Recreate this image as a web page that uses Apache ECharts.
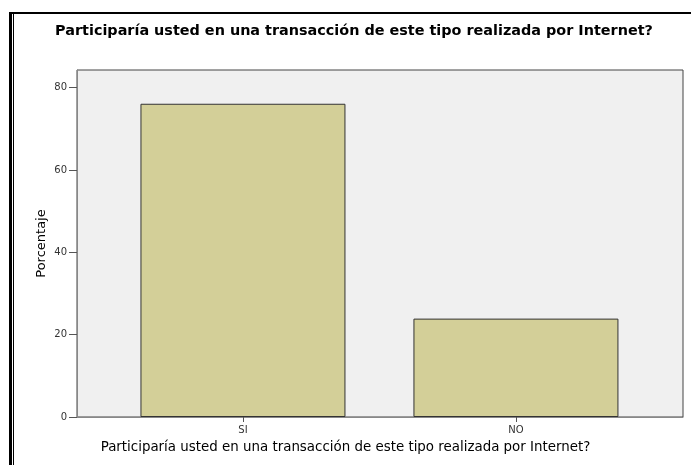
<!DOCTYPE html>
<html>
<head>
<meta charset="utf-8">
<script src="https://cdn.jsdelivr.net/npm/echarts@6/dist/echarts.min.js"></script>
<style>html,body{margin:0;padding:0;background:#fff;}#c{width:691px;height:465px;}</style>
</head>
<body>
<div id="c"></div>
<script>
var categories = ['SI', 'NO'];
var values = [76.1, 23.9];
var yTicks = [0, 20, 40, 60, 80];
var titleText = 'Participaría usted en una transacción de este tipo realizada por Internet?';
var xName = 'Participaría usted en una transacción de este tipo realizada por Internet?';
var yName = 'Porcentaje';

var positions = categories.map(function (c, i) { return i; });
var barData = values.map(function (v, i) { return [positions[i], v]; });

var chart = echarts.init(document.getElementById('c'), null, {renderer: 'canvas'});
chart.setOption({
  animation: false,
  backgroundColor: '#ffffff',
  grid: {
    left: 77, right: 8, top: 70, bottom: 48,
    show: true, backgroundColor: '#f0f0f0', borderColor: '#444', borderWidth: 1
  },
  xAxis: {
    type: 'value', min: -0.608, max: 1.612,
    splitLine: {show: false},
    axisLine: {show: true, onZero: false, lineStyle: {color: '#888', width: 1}},
    axisTick: {show: true, length: 5, customValues: positions, lineStyle: {color: '#555'}},
    axisLabel: {
      customValues: positions, margin: 8,
      formatter: function (v) { return categories[Math.round(v)]; },
      fontFamily: 'DejaVu Sans', fontSize: 10, color: '#333'
    }
  },
  yAxis: {
    type: 'value', min: 0, max: 84.3,
    name: yName, nameLocation: 'middle', nameGap: 29, nameRotate: 90,
    nameMoveOverlap: false,
    nameTextStyle: {fontFamily: 'DejaVu Sans', fontSize: 13, color: '#000'},
    splitLine: {show: false},
    axisLine: {show: true, onZero: false, lineStyle: {color: '#888', width: 1}},
    axisTick: {show: true, length: 8, customValues: yTicks, lineStyle: {color: '#555'}},
    axisLabel: {
      customValues: yTicks, margin: 10,
      fontFamily: 'DejaVu Sans', fontSize: 10, color: '#333'
    }
  },
  series: [{
    type: 'bar',
    data: barData,
    barWidth: 205,
    itemStyle: {color: '#d3cf98', borderColor: '#333', borderWidth: 1}
  }],
  graphic: [
    {type: 'rect', shape: {x: 9, y: 12, width: 3, height: 453}, style: {fill: '#000'}, silent: true},
    {type: 'rect', shape: {x: 13, y: 12, width: 1, height: 453}, style: {fill: '#000'}, silent: true},
    {type: 'rect', shape: {x: 9, y: 12, width: 682, height: 2}, style: {fill: '#000'}, silent: true},
    {type: 'text', x: 354, y: 31, style: {text: titleText, fontFamily: 'DejaVu Sans', fontSize: 14.4, fontWeight: 'bold', fill: '#000', textAlign: 'center', textVerticalAlign: 'middle'}},
    {type: 'text', x: 345.5, y: 448, style: {text: xName, fontFamily: 'DejaVu Sans', fontSize: 13.4, fill: '#000', textAlign: 'center', textVerticalAlign: 'middle'}}
  ]
});
</script>
</body>
</html>
